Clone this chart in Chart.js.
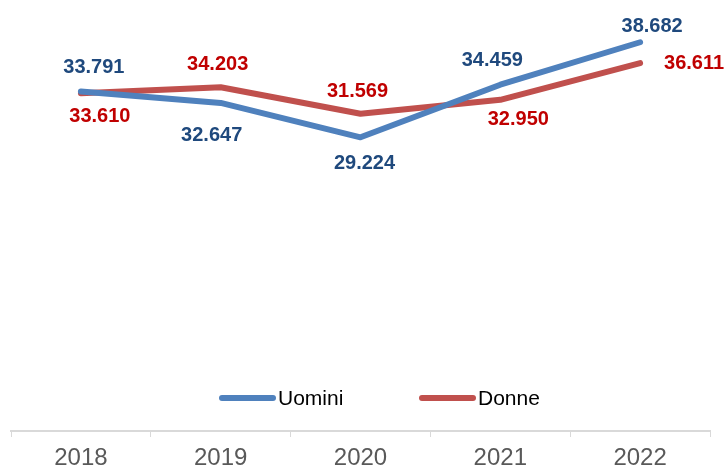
<!DOCTYPE html>
<html>
<head>
<meta charset="utf-8">
<script src="https://cdn.jsdelivr.net/npm/chart.js@4/dist/chart.umd.min.js"></script>
<style>
  html, body { margin: 0; padding: 0; background: #fff; overflow: hidden; }
  #wrap { position: relative; width: 724px; height: 467px; overflow: hidden; }
</style>
</head>
<body>
<div id="wrap"><canvas id="chart" width="724" height="479"></canvas></div>
<script>
// dati: anni e valori per sesso
const anni = ['2018', '2019', '2020', '2021', '2022'];
const uomini = [33.791, 32.647, 29.224, 34.459, 38.682];
const donne = [33.610, 34.203, 31.569, 32.950, 36.611];

// spostamento delle etichette rispetto al punto (x, y in px)
const posUomini = [[13, -24], [-9, 33], [4, 26], [-8, -24], [12, -16]];
const posDonne = [[19, 23], [-3, -23], [-3, -22], [18, 20], [54, 0]];

function fmt(v){
    return v.toFixed(3);
}

// plugin per le etichette dei valori
const etichette = {
    id: 'etichette',
    afterDatasetsDraw(chart){
        let ctx = chart.ctx;
        ctx.save();
        ctx.font = 'bold 20px "Liberation Sans", Arial, sans-serif';
        ctx.textAlign = 'center';
        ctx.textBaseline = 'middle';
        chart.data.datasets.forEach((ds, i) => {
            let meta = chart.getDatasetMeta(i);
            meta.data.forEach((pt, j) => {
                let off = ds.pos[j];
                ctx.fillStyle = ds.labelColor;
                ctx.fillText(fmt(ds.data[j]), pt.x + off[0], pt.y + off[1]);
            });
        });
        ctx.restore();
    }
};

// plugin per la legenda dentro l'area del grafico
const legenda = {
    id: 'legenda',
    afterDraw(chart){
        let ctx = chart.ctx;
        ctx.save();
        ctx.font = '21px "Liberation Sans", Arial, sans-serif';
        ctx.textBaseline = 'middle';
        let x = 222, y = 398;
        chart.data.datasets.forEach(ds => {
            ctx.strokeStyle = ds.borderColor;
            ctx.lineWidth = 6;
            ctx.lineCap = 'round';
            ctx.beginPath();
            ctx.moveTo(x, y);
            ctx.lineTo(x + 51, y);
            ctx.stroke();
            ctx.fillStyle = '#000';
            ctx.fillText(ds.label, x + 56, y + 1);
            x += 200;
        });
        ctx.restore();
    }
};

let ctx = document.getElementById('chart').getContext('2d');
let grafico = new Chart(ctx, {
    type: 'line',
    data: {
        labels: anni,
        datasets: [
            {label: 'Uomini', data: uomini, pos: posUomini, borderColor: '#4F81BD', labelColor: '#1F497D',
             borderWidth: 6, pointRadius: 0, tension: 0, borderCapStyle: 'round', borderJoinStyle: 'round'},
            {label: 'Donne', data: donne, pos: posDonne, borderColor: '#C0504D', labelColor: '#C00000',
             borderWidth: 6, pointRadius: 0, tension: 0, borderCapStyle: 'round', borderJoinStyle: 'round'}
        ]
    },
    options: {
        responsive: false,
        animation: false,
        layout: {padding: {left: 11, right: 14, top: 29, bottom: 0}},
        plugins: {legend: {display: false}, tooltip: {enabled: false}},
        scales: {
            x: {
                offset: true,
                grid: {drawOnChartArea: false, color: '#D9D9D9', tickLength: 6, offset: true},
                border: {color: '#D9D9D9', width: 2},
                ticks: {color: '#595959', padding: 9, font: {family: '"Liberation Sans", Arial, sans-serif', size: 24, lineHeight: 1.0}}
            },
            y: {display: false, min: 0, max: 40}
        }
    },
    plugins: [etichette, legenda]
});
</script>
</body>
</html>
